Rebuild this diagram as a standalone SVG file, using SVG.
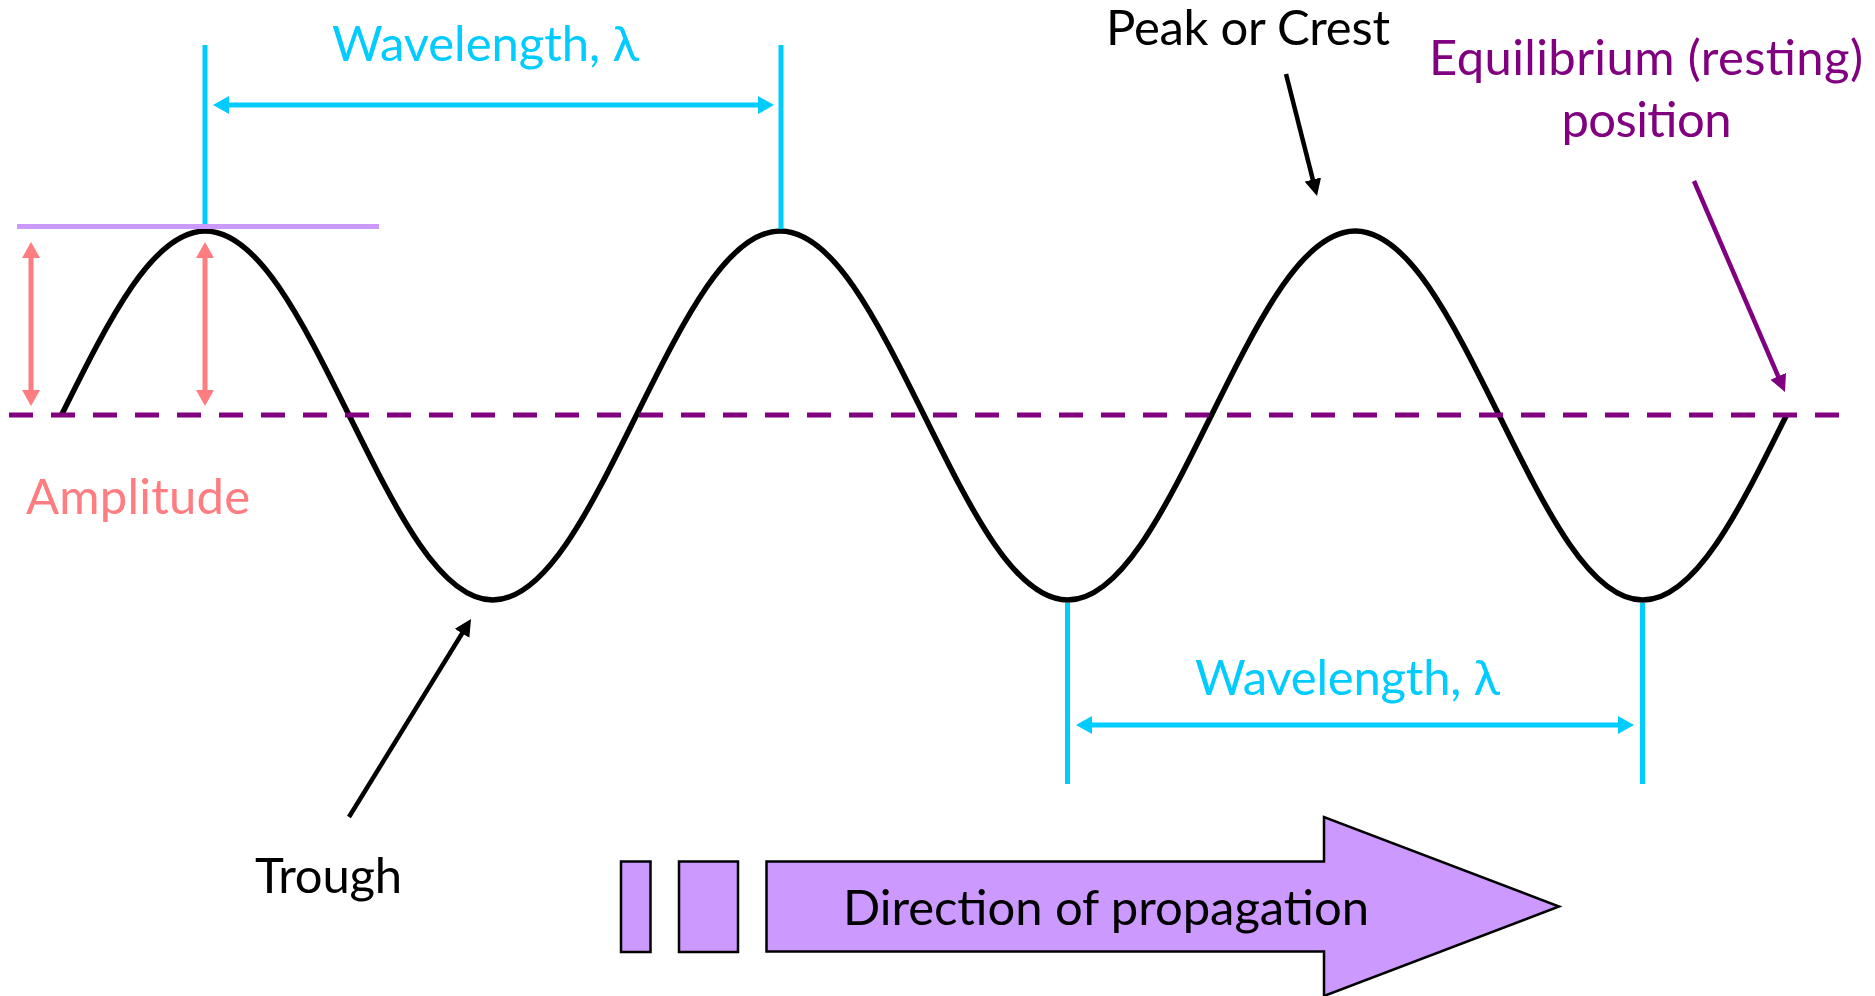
<svg xmlns="http://www.w3.org/2000/svg" width="1875" height="996" viewBox="0 0 1875 996">
  <style>
    text { font-family: Lato, "Noto Sans", "DejaVu Sans", sans-serif; font-size: 49px; }
    .cyan { fill: #00CCFF; }
    .salmon { fill: #FF7C80; }
    .purple { fill: #800080; }
    .black { fill: #000000; }
    .dim-cyan { stroke: #00CCFF; stroke-width: 5; fill: none; }
    .dim-salmon { stroke: #FF7C80; stroke-width: 5; fill: none; }
    .ptr-black { stroke: #000000; stroke-width: 4.5; fill: none; }
    .ptr-purple { stroke: #800080; stroke-width: 4.5; fill: none; }
    .block { fill: #CC99FF; stroke: #000000; stroke-width: 2.5; stroke-linejoin: miter; }
  </style>
  <defs>
    <marker id="ah-cyan" viewBox="0 0 16 18" markerUnits="userSpaceOnUse" markerWidth="16" markerHeight="18" refX="4" refY="9" orient="auto-start-reverse">
      <path d="M0,0 L16,9 L0,18 z" fill="#00CCFF"/>
    </marker>
    <marker id="ah-salmon" viewBox="0 0 16 18" markerUnits="userSpaceOnUse" markerWidth="16" markerHeight="18" refX="4" refY="9" orient="auto-start-reverse">
      <path d="M0,0 L16,9 L0,18 z" fill="#FF7C80"/>
    </marker>
    <marker id="ah-black" viewBox="0 0 17 17" markerUnits="userSpaceOnUse" markerWidth="17" markerHeight="17" refX="4" refY="8.5" orient="auto">
      <path d="M0,0 L17,8.5 L0,17 z" fill="#000000"/>
    </marker>
    <marker id="ah-purple" viewBox="0 0 17 17" markerUnits="userSpaceOnUse" markerWidth="17" markerHeight="17" refX="4" refY="8.5" orient="auto">
      <path d="M0,0 L17,8.5 L0,17 z" fill="#800080"/>
    </marker>
  </defs>

  <rect x="0" y="0" width="1875" height="996" fill="#FFFFFF"/>

  <g id="wave">
    <path d="M 61.5 415
      C 109.55 318.4 153.01 231 205.25 231
      C 257.49 231 300.95 318.4 349 415
      C 397.05 512.1 440.51 600 492.75 600
      C 544.99 600 588.45 512.1 636.5 415
      C 684.55 318.4 728.01 231 780.25 231
      C 832.49 231 875.95 318.4 924 415
      C 972.05 512.1 1015.51 600 1067.75 600
      C 1119.99 600 1163.45 512.1 1211.5 415
      C 1259.55 318.4 1303.01 231 1355.25 231
      C 1407.49 231 1450.95 318.4 1499 415
      C 1547.05 512.1 1590.51 600 1642.75 600
      C 1694.99 600 1738.45 512.1 1786.5 415"
      fill="none" stroke="#000000" stroke-width="5.5" stroke-linejoin="round"/>
  </g>

  <g id="equilibrium-line">
    <line x1="9" y1="415" x2="1842" y2="415" stroke="#800080" stroke-width="5" stroke-dasharray="24 18"/>
  </g>

  <g id="connectors">
    <line class="dim-cyan" x1="205" y1="45" x2="205" y2="226"/>
    <line class="dim-cyan" x1="781" y1="45" x2="781" y2="229"/>
    <line class="dim-cyan" x1="225" y1="105" x2="762" y2="105" marker-start="url(#ah-cyan)" marker-end="url(#ah-cyan)"/>
    <line class="dim-cyan" x1="1067.5" y1="603" x2="1067.5" y2="784"/>
    <line class="dim-cyan" x1="1642.5" y1="603" x2="1642.5" y2="784"/>
    <line class="dim-cyan" x1="1088" y1="725" x2="1622" y2="725" marker-start="url(#ah-cyan)" marker-end="url(#ah-cyan)"/>
    <line class="dim-salmon" x1="31" y1="254" x2="31" y2="394" marker-start="url(#ah-salmon)" marker-end="url(#ah-salmon)"/>
    <line class="dim-salmon" x1="205" y1="254" x2="205" y2="394" marker-start="url(#ah-salmon)" marker-end="url(#ah-salmon)"/>
    <line class="ptr-black" x1="349" y1="817" x2="464.2" y2="630" marker-end="url(#ah-black)"/>
    <line class="ptr-black" x1="1286" y1="74" x2="1313.8" y2="183.4" marker-end="url(#ah-black)"/>
    <line class="ptr-purple" x1="1694" y1="181" x2="1779.8" y2="380" marker-end="url(#ah-purple)"/>
  </g>

  <g id="amplitude-top-line">
    <line x1="17" y1="226.5" x2="379" y2="226.5" stroke="#CC99FF" stroke-width="5"/>
  </g>

  <g id="label-wavelength-top">
    <text class="cyan" x="332" y="61" textLength="307">Wavelength, λ</text>
  </g>
  <g id="label-peak">
    <text class="black" x="1106" y="45" textLength="284">Peak or Crest</text>
  </g>
  <g id="label-equilibrium">
    <text class="purple" x="1429" y="75" textLength="434">Equilibrium (resting)</text>
    <text class="purple" x="1561.5" y="136.5" textLength="170">position</text>
  </g>
  <g id="label-amplitude">
    <text class="salmon" x="26" y="514" textLength="224">Amplitude</text>
  </g>
  <g id="label-trough">
    <text class="black" x="255" y="893" textLength="147">Trough</text>
  </g>
  <g id="label-wavelength-bottom">
    <text class="cyan" x="1195" y="695" textLength="305">Wavelength, λ</text>
  </g>

  <g id="direction-arrow">
    <rect class="block" x="621" y="861.5" width="29.5" height="90.5"/>
    <rect class="block" x="679" y="861.5" width="59" height="90.5"/>
    <polygon class="block" points="766.5,861.5 1324,861.5 1324,817 1559,906.5 1324,996 1324,951.5 766.5,951.5"/>
    <text class="black" x="843" y="925" textLength="526">Direction of propagation</text>
  </g>
</svg>
